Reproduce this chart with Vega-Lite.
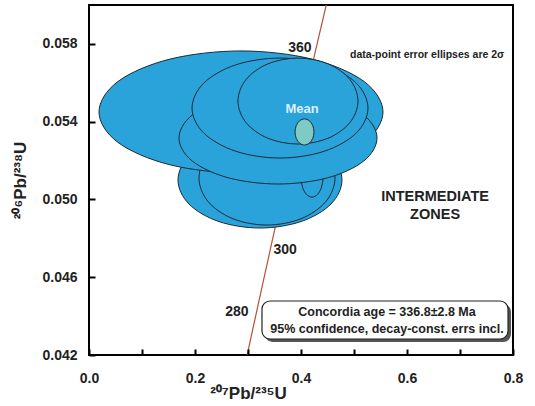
{
  "$schema": "https://vega.github.io/schema/vega-lite/v6.json",
  "width": 424,
  "height": 350,
  "autosize": "none",
  "padding": {"left": 89, "top": 5, "right": 22, "bottom": 51},
  "config": {
    "view": {"stroke": "black", "strokeWidth": 2},
    "font": "Liberation Sans",
    "axis": {
      "labelFont": "Liberation Sans", "labelFontWeight": "bold", "labelFontSize": 14, "labelColor": "#222",
      "titleFont": "Liberation Sans", "titleFontWeight": "bold", "titleFontSize": 17, "titleColor": "#222",
      "grid": false, "labelFlush": false
    }
  },
  "datasets": {
    "ell": [
      {"e":1,"i":0,"x":0.4773,"y":0.05100},{"e":1,"i":1,"x":0.4566,"y":0.052235},{"e":1,"i":2,"x":0.4000,"y":0.053138},{"e":1,"i":3,"x":0.3226,"y":0.053469},{"e":1,"i":4,"x":0.2452,"y":0.053138},{"e":1,"i":5,"x":0.1886,"y":0.052235},{"e":1,"i":6,"x":0.1679,"y":0.05100},{"e":1,"i":7,"x":0.1886,"y":0.049765},{"e":1,"i":8,"x":0.2452,"y":0.048862},{"e":1,"i":9,"x":0.3226,"y":0.048531},{"e":1,"i":10,"x":0.4000,"y":0.048862},{"e":1,"i":11,"x":0.4566,"y":0.049765},
      {"e":2,"i":0,"x":0.4641,"y":0.05110},{"e":2,"i":1,"x":0.4469,"y":0.052309},{"e":2,"i":2,"x":0.4000,"y":0.053193},{"e":2,"i":3,"x":0.3358,"y":0.053517},{"e":2,"i":4,"x":0.2716,"y":0.053193},{"e":2,"i":5,"x":0.2247,"y":0.052309},{"e":2,"i":6,"x":0.2075,"y":0.05110},{"e":2,"i":7,"x":0.2247,"y":0.049891},{"e":2,"i":8,"x":0.2716,"y":0.049007},{"e":2,"i":9,"x":0.3358,"y":0.048683},{"e":2,"i":10,"x":0.4000,"y":0.049007},{"e":2,"i":11,"x":0.4469,"y":0.049891},
      {"e":3,"i":0,"x":0.4416,"y":0.05115},{"e":3,"i":1,"x":0.4388,"y":0.051665},{"e":3,"i":2,"x":0.4312,"y":0.052041},{"e":3,"i":3,"x":0.4208,"y":0.052179},{"e":3,"i":4,"x":0.4104,"y":0.052041},{"e":3,"i":5,"x":0.4028,"y":0.051665},{"e":3,"i":6,"x":0.4001,"y":0.05115},{"e":3,"i":7,"x":0.4028,"y":0.050635},{"e":3,"i":8,"x":0.4104,"y":0.050259},{"e":3,"i":9,"x":0.4208,"y":0.050121},{"e":3,"i":10,"x":0.4312,"y":0.050259},{"e":3,"i":11,"x":0.4388,"y":0.050635},
      {"e":4,"i":0,"x":0.5547,"y":0.05450},{"e":4,"i":1,"x":0.5188,"y":0.056069},{"e":4,"i":2,"x":0.4208,"y":0.057217},{"e":4,"i":3,"x":0.2868,"y":0.057637},{"e":4,"i":4,"x":0.1528,"y":0.057217},{"e":4,"i":5,"x":0.0548,"y":0.056069},{"e":4,"i":6,"x":0.0189,"y":0.05450},{"e":4,"i":7,"x":0.0548,"y":0.052931},{"e":4,"i":8,"x":0.1528,"y":0.051783},{"e":4,"i":9,"x":0.2868,"y":0.051363},{"e":4,"i":10,"x":0.4208,"y":0.051783},{"e":4,"i":11,"x":0.5188,"y":0.052931},
      {"e":5,"i":0,"x":0.5434,"y":0.05316},{"e":5,"i":1,"x":0.5184,"y":0.054343},{"e":5,"i":2,"x":0.4500,"y":0.055209},{"e":5,"i":3,"x":0.3566,"y":0.055526},{"e":5,"i":4,"x":0.2632,"y":0.055209},{"e":5,"i":5,"x":0.1948,"y":0.054343},{"e":5,"i":6,"x":0.1698,"y":0.05316},{"e":5,"i":7,"x":0.1948,"y":0.051977},{"e":5,"i":8,"x":0.2632,"y":0.051111},{"e":5,"i":9,"x":0.3566,"y":0.050794},{"e":5,"i":10,"x":0.4500,"y":0.051111},{"e":5,"i":11,"x":0.5184,"y":0.051977},
      {"e":6,"i":0,"x":0.5264,"y":0.05470},{"e":6,"i":1,"x":0.5042,"y":0.055986},{"e":6,"i":2,"x":0.4434,"y":0.056926},{"e":6,"i":3,"x":0.3604,"y":0.057271},{"e":6,"i":4,"x":0.2774,"y":0.056926},{"e":6,"i":5,"x":0.2166,"y":0.055986},{"e":6,"i":6,"x":0.1944,"y":0.05470},{"e":6,"i":7,"x":0.2166,"y":0.053414},{"e":6,"i":8,"x":0.2774,"y":0.052474},{"e":6,"i":9,"x":0.3604,"y":0.052129},{"e":6,"i":10,"x":0.4434,"y":0.052474},{"e":6,"i":11,"x":0.5042,"y":0.053414},
      {"e":7,"i":0,"x":0.5075,"y":0.05506},{"e":7,"i":1,"x":0.4923,"y":0.056166},{"e":7,"i":2,"x":0.4509,"y":0.056975},{"e":7,"i":3,"x":0.3943,"y":0.057271},{"e":7,"i":4,"x":0.3377,"y":0.056975},{"e":7,"i":5,"x":0.2963,"y":0.056166},{"e":7,"i":6,"x":0.2811,"y":0.05506},{"e":7,"i":7,"x":0.2963,"y":0.053954},{"e":7,"i":8,"x":0.3377,"y":0.053145},{"e":7,"i":9,"x":0.3943,"y":0.052849},{"e":7,"i":10,"x":0.4509,"y":0.053145},{"e":7,"i":11,"x":0.4923,"y":0.053954},
      {"e":8,"i":0,"x":0.4245,"y":0.05347},{"e":8,"i":1,"x":0.4221,"y":0.053805},{"e":8,"i":2,"x":0.4156,"y":0.054049},{"e":8,"i":3,"x":0.4066,"y":0.054139},{"e":8,"i":4,"x":0.3976,"y":0.054049},{"e":8,"i":5,"x":0.3911,"y":0.053805},{"e":8,"i":6,"x":0.3887,"y":0.05347},{"e":8,"i":7,"x":0.3911,"y":0.053135},{"e":8,"i":8,"x":0.3976,"y":0.052891},{"e":8,"i":9,"x":0.4066,"y":0.052801},{"e":8,"i":10,"x":0.4156,"y":0.052891},{"e":8,"i":11,"x":0.4221,"y":0.053135}
    ],
    "conc": [
      {"t":265.2,"x":0.2985,"y":0.0420},{"t":280,"x":0.3175,"y":0.04439},{"t":300,"x":0.34375,"y":0.047637},{"t":320,"x":0.37047,"y":0.050893},{"t":340,"x":0.39773,"y":0.054158},{"t":360,"x":0.42554,"y":0.057434},{"t":375.6,"x":0.4476,"y":0.0600}
    ],
    "ages": [
      {"label":"360","x":0.398,"y":0.05781},{"label":"300","x":0.370,"y":0.0474},{"label":"280","x":0.279,"y":0.04421}
    ],
    "box": [{"x1":0.3264,"x2":0.7906,"y1":0.044777,"y2":0.042823}],
    "boxtext": [{"label":"Concordia  age = 336.8±2.8 Ma","x":0.5623,"y":0.044211},{"label":"95% confidence, decay-const. errs incl.","x":0.5623,"y":0.043337}],
    "zones": [{"label":"INTERMEDIATE","x":0.653,"y":0.05013},{"label":"ZONES","x":0.653,"y":0.0492}],
    "note": [{"label":"data-point error ellipses are 2σ","x":0.638,"y":0.05743}],
    "mean": [{"label":"Mean","x":0.402,"y":0.05465}]
  },
  "layer": [
    {"data": {"name": "conc"}, "mark": {"type": "line", "color": "#b4533a", "strokeWidth": 1.2, "clip": true},
     "encoding": {
       "x": {"field": "x", "type": "quantitative", "scale": {"domain": [0, 0.8], "nice": false, "zero": false},
         "axis": {"values": [0,0.1,0.2,0.3,0.4,0.5,0.6,0.7,0.8], "labelExpr": "(round(datum.value*10) % 2 == 0) ? format(datum.value, '.1f') : ''",
           "offset": -6, "domain": true, "domainOpacity": 0, "ticks": true, "tickSize": 6, "tickColor": "black", "tickWidth": 2, "tickOpacity": 1, "labelPadding": 16, "title": "²⁰⁷Pb/²³⁵U", "titleX": 159, "titleY": 36, "titleAnchor": "middle", "zindex": 1}},
       "y": {"field": "y", "type": "quantitative", "scale": {"domain": [0.042, 0.060], "nice": false, "zero": false},
         "axis": {"values": [0.042,0.044,0.046,0.048,0.050,0.052,0.054,0.056,0.058,0.060], "labelExpr": "(round(datum.value*1000) % 4 == 2) ? format(datum.value, '.3f') : ''",
           "offset": -6, "domain": true, "domainOpacity": 0, "ticks": true, "tickSize": 6, "tickColor": "black", "tickWidth": 2, "tickOpacity": 1, "labelPadding": 12, "title": "²⁰⁶Pb/²³⁸U", "titlePadding": 12, "zindex": 1}},
       "order": {"field": "t", "type": "quantitative"}}},
    {"data": {"name": "ell"}, "transform": [{"filter": "datum.e == 1"}], "mark": {"type": "line", "interpolate": "cardinal-closed", "fill": "#2aa3db", "stroke": "#1b2b35", "strokeWidth": 1}, "encoding": {"x": {"field": "x", "type": "quantitative"}, "y": {"field": "y", "type": "quantitative"}, "order": {"field": "i", "type": "quantitative"}}},
    {"data": {"name": "ell"}, "transform": [{"filter": "datum.e == 2"}], "mark": {"type": "line", "interpolate": "cardinal-closed", "fill": "#2aa3db", "stroke": "#1b2b35", "strokeWidth": 1}, "encoding": {"x": {"field": "x", "type": "quantitative"}, "y": {"field": "y", "type": "quantitative"}, "order": {"field": "i", "type": "quantitative"}}},
    {"data": {"name": "ell"}, "transform": [{"filter": "datum.e == 3"}], "mark": {"type": "line", "interpolate": "cardinal-closed", "fill": "#2aa3db", "stroke": "#1b2b35", "strokeWidth": 1}, "encoding": {"x": {"field": "x", "type": "quantitative"}, "y": {"field": "y", "type": "quantitative"}, "order": {"field": "i", "type": "quantitative"}}},
    {"data": {"name": "ell"}, "transform": [{"filter": "datum.e == 4"}], "mark": {"type": "line", "interpolate": "cardinal-closed", "fill": "#2aa3db", "stroke": "#1b2b35", "strokeWidth": 1}, "encoding": {"x": {"field": "x", "type": "quantitative"}, "y": {"field": "y", "type": "quantitative"}, "order": {"field": "i", "type": "quantitative"}}},
    {"data": {"name": "ell"}, "transform": [{"filter": "datum.e == 5"}], "mark": {"type": "line", "interpolate": "cardinal-closed", "fill": "#2aa3db", "stroke": "#1b2b35", "strokeWidth": 1}, "encoding": {"x": {"field": "x", "type": "quantitative"}, "y": {"field": "y", "type": "quantitative"}, "order": {"field": "i", "type": "quantitative"}}},
    {"data": {"name": "ell"}, "transform": [{"filter": "datum.e == 6"}], "mark": {"type": "line", "interpolate": "cardinal-closed", "fill": "#2aa3db", "stroke": "#1b2b35", "strokeWidth": 1}, "encoding": {"x": {"field": "x", "type": "quantitative"}, "y": {"field": "y", "type": "quantitative"}, "order": {"field": "i", "type": "quantitative"}}},
    {"data": {"name": "ell"}, "transform": [{"filter": "datum.e == 7"}], "mark": {"type": "line", "interpolate": "cardinal-closed", "fill": "#2aa3db", "stroke": "#1b2b35", "strokeWidth": 1}, "encoding": {"x": {"field": "x", "type": "quantitative"}, "y": {"field": "y", "type": "quantitative"}, "order": {"field": "i", "type": "quantitative"}}},
    {"data": {"name": "ell"}, "transform": [{"filter": "datum.e == 8"}], "mark": {"type": "line", "interpolate": "cardinal-closed", "fill": "#7ecbc4", "stroke": "#1b2b35", "strokeWidth": 1}, "encoding": {"x": {"field": "x", "type": "quantitative"}, "y": {"field": "y", "type": "quantitative"}, "order": {"field": "i", "type": "quantitative"}}},
    {"data": {"name": "ages"}, "mark": {"type": "text", "font": "Liberation Sans", "fontWeight": "bold", "fontSize": 14, "color": "#222"}, "encoding": {"x": {"field": "x", "type": "quantitative"}, "y": {"field": "y", "type": "quantitative"}, "text": {"field": "label"}}},
    {"data": {"name": "note"}, "mark": {"type": "text", "font": "Liberation Sans", "fontWeight": "bold", "fontSize": 10.5, "color": "#222"}, "encoding": {"x": {"field": "x", "type": "quantitative"}, "y": {"field": "y", "type": "quantitative"}, "text": {"field": "label"}}},
    {"data": {"name": "zones"}, "mark": {"type": "text", "font": "Liberation Sans", "fontWeight": "bold", "fontSize": 14.5, "color": "#222"}, "encoding": {"x": {"field": "x", "type": "quantitative"}, "y": {"field": "y", "type": "quantitative"}, "text": {"field": "label"}}},
    {"data": {"name": "mean"}, "mark": {"type": "text", "font": "Liberation Sans", "fontWeight": "bold", "fontSize": 13, "color": "#dcefff"}, "encoding": {"x": {"field": "x", "type": "quantitative"}, "y": {"field": "y", "type": "quantitative"}, "text": {"field": "label"}}},
    {"data": {"name": "box"}, "mark": {"type": "rect", "fill": "#555", "cornerRadius": 8, "xOffset": 3, "x2Offset": 3, "yOffset": 3, "y2Offset": 3}, "encoding": {"x": {"field": "x1", "type": "quantitative"}, "x2": {"field": "x2"}, "y": {"field": "y1", "type": "quantitative"}, "y2": {"field": "y2"}}},
    {"data": {"name": "box"}, "mark": {"type": "rect", "fill": "white", "stroke": "#222", "strokeWidth": 1.2, "cornerRadius": 8}, "encoding": {"x": {"field": "x1", "type": "quantitative"}, "x2": {"field": "x2"}, "y": {"field": "y1", "type": "quantitative"}, "y2": {"field": "y2"}}},
    {"data": {"name": "boxtext"}, "mark": {"type": "text", "font": "Liberation Sans", "fontWeight": "bold", "fontSize": 12.5, "color": "#222"}, "encoding": {"x": {"field": "x", "type": "quantitative"}, "y": {"field": "y", "type": "quantitative"}, "text": {"field": "label"}}}
  ]
}
